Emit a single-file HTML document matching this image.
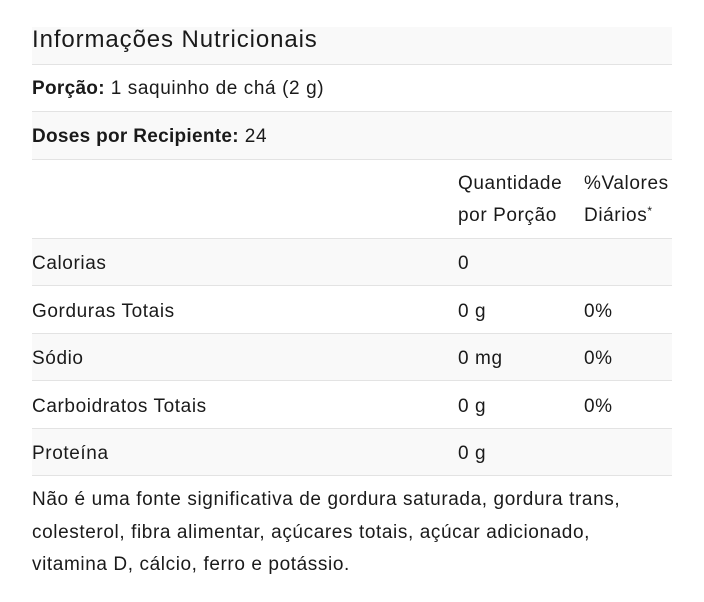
<!DOCTYPE html>
<html><head><meta charset="utf-8">
<style>
html,body{margin:0;padding:0;background:#fff;}
body{width:704px;height:602px;position:relative;overflow:hidden;font-family:"Liberation Sans",sans-serif;color:#1a1a1a;}
.r{position:absolute;left:32px;width:640px;border-bottom:1px solid #e3e3e3;box-sizing:border-box;}
.g{background:#f9f9f9;}
.t{position:absolute;white-space:nowrap;font-size:19px;letter-spacing:0.6px;}
b{font-weight:bold;letter-spacing:0.3px;}
</style></head><body>
<div class="r g" style="top:27px;height:38px;"></div>
<div class="r" style="top:65px;height:47px;"></div>
<div class="r g" style="top:112px;height:48px;"></div>
<div class="r" style="top:160px;height:79px;"></div>
<div class="r g" style="top:239px;height:47px;"></div>
<div class="r" style="top:286px;height:48px;"></div>
<div class="r g" style="top:334px;height:47px;"></div>
<div class="r" style="top:381px;height:48px;"></div>
<div class="r g" style="top:429px;height:47px;"></div>

<div class="t" style="left:32px;top:25px;font-size:24px;line-height:30px;letter-spacing:0.9px;">Informações Nutricionais</div>
<div class="t" style="left:32px;top:77px;line-height:24px;"><b>Porção:</b> 1 saquinho de chá (2 g)</div>
<div class="t" style="left:32px;top:125px;line-height:24px;"><b>Doses por Recipiente:</b> 24</div>
<div class="t" style="left:458px;top:172px;line-height:24px;">Quantidade</div>
<div class="t" style="left:458px;top:204px;line-height:24px;">por Porção</div>
<div class="t" style="left:584px;top:172px;line-height:24px;">%Valores</div>
<div class="t" style="left:584px;top:204px;line-height:24px;">Diários<span style="font-size:12px;position:relative;top:-6px;">*</span></div>

<div class="t" style="left:32px;top:252px;line-height:24px;">Calorias</div>
<div class="t" style="left:458px;top:252px;line-height:24px;">0</div>
<div class="t" style="left:32px;top:300px;line-height:24px;">Gorduras Totais</div>
<div class="t" style="left:458px;top:300px;line-height:24px;">0 g</div>
<div class="t" style="left:584px;top:300px;line-height:24px;">0%</div>
<div class="t" style="left:32px;top:347px;line-height:24px;">Sódio</div>
<div class="t" style="left:458px;top:347px;line-height:24px;">0 mg</div>
<div class="t" style="left:584px;top:347px;line-height:24px;">0%</div>
<div class="t" style="left:32px;top:395px;line-height:24px;">Carboidratos Totais</div>
<div class="t" style="left:458px;top:395px;line-height:24px;">0 g</div>
<div class="t" style="left:584px;top:395px;line-height:24px;">0%</div>
<div class="t" style="left:32px;top:442px;line-height:24px;">Proteína</div>
<div class="t" style="left:458px;top:442px;line-height:24px;">0 g</div>

<div class="t" style="left:32px;top:488px;line-height:24px;">Não é uma fonte significativa de gordura saturada, gordura trans,</div>
<div class="t" style="left:32px;top:521px;line-height:24px;">colesterol, fibra alimentar, açúcares totais, açúcar adicionado,</div>
<div class="t" style="left:32px;top:553px;line-height:24px;">vitamina D, cálcio, ferro e potássio.</div>
</body></html>
